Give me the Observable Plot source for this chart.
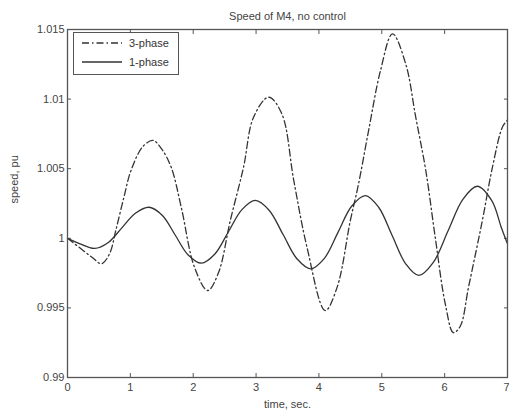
<!DOCTYPE html>
<html>
<head>
<meta charset="utf-8">
<script src="https://cdn.jsdelivr.net/npm/d3@7"></script>
<script src="https://cdn.jsdelivr.net/npm/@observablehq/plot@0.6"></script>
<style>
  html, body { margin: 0; padding: 0; background: #fff; }
  #wrap { position: relative; width: 509px; height: 417px; font-family: "Liberation Sans", Arial, sans-serif; }
  #legend { position: absolute; left: 73px; top: 32px; width: 106px; height: 43px; border: 1px solid #555; background: #fff; box-sizing: border-box; font-size: 11px; color: #333; }
  #legend .row { position: absolute; left: 8px; display: flex; align-items: center; }
  #legend svg { display: block; }
</style>
</head>
<body>
<div id="wrap">
  <div id="chart"></div>
  <div id="legend"></div>
</div>
<script>
const title = "Speed of M4, no control";
const xLabel = "time, sec.";
const yLabel = "speed, pu";
const seriesNames = ["3-phase", "1-phase"];

const xTicks = [0, 1, 2, 3, 4, 5, 6, 7];
const yTicks = [0.99, 0.995, 1, 1.005, 1.01, 1.015];
const yTickLabels = ["0.99", "0.995", "1", "1.005", "1.01", "1.015"];

// 3-phase (dash-dot)
const t3 = [0, 0.2, 0.4, 0.54, 0.67, 0.77, 0.9, 1.01, 1.2, 1.36, 1.5, 1.65, 1.81, 2.02, 2.23, 2.4, 2.59, 2.8, 2.96, 3.2, 3.41, 3.6, 3.81, 4.1, 4.29, 4.5, 4.63, 4.79, 4.98, 5.17, 5.38, 5.54, 5.7, 5.85, 6.01, 6.14, 6.25, 6.38, 6.6, 6.76, 6.92, 7.0];
const v3 = [1.0000, 0.9993, 0.9986, 0.99817, 0.9989, 1.0006, 1.0030, 1.00487, 1.0066, 1.00703, 1.0064, 1.0051, 1.00223, 0.99792, 0.99625, 0.9975, 1.00128, 1.0051, 1.0087, 1.01014, 1.00894, 1.00415, 0.99936, 0.99481, 0.99649, 1.00128, 1.0039, 1.00774, 1.01206, 1.01469, 1.01254, 1.0087, 1.00487, 1.00008, 0.99529, 0.99322, 0.9937, 0.99649, 1.00128, 1.0051, 1.008, 1.0085];

// 1-phase (solid)
const t1 = [0, 0.2, 0.43, 0.65, 0.865, 1.08, 1.3, 1.51, 1.715, 1.92, 2.13, 2.345, 2.56, 2.775, 2.99, 3.21, 3.43, 3.65, 3.87, 4.09, 4.305, 4.52, 4.74, 4.95, 5.165, 5.38, 5.59, 5.82, 6.055, 6.29, 6.52, 6.75, 6.9, 7.0];
const v1 = [1.0000, 0.9996, 0.99927, 0.9997, 1.00075, 1.0018, 1.00223, 1.00164, 1.00022, 0.9988, 0.99821, 0.99887, 1.00047, 1.00206, 1.00272, 1.002, 1.00027, 0.99853, 0.99781, 0.99858, 1.00044, 1.0023, 1.00307, 1.00223, 1.0002, 0.99817, 0.99733, 0.99827, 1.00054, 1.0028, 1.00374, 1.0027, 1.0008, 0.9996];

const d3p = t3.map((t, i) => ({t, v: v3[i]}));
const d1p = t1.map((t, i) => ({t, v: v1[i]}));

const lineColor = "#333";
const axisColor = "#555";
const dashDot = "7,3,1.5,3";
const fmtY = d => yTickLabels[yTicks.indexOf(d)] ?? String(d);

const chart = Plot.plot({
  width: 509,
  height: 417,
  marginLeft: 67,
  marginRight: 2,
  marginTop: 29,
  marginBottom: 40,
  style: {fontFamily: "'Liberation Sans', Arial, sans-serif", fontSize: "11px", color: "#444", background: "#fff"},
  x: {domain: [0, 7]},
  y: {domain: [0.99, 1.015]},
  marks: [
    Plot.axisX({ticks: xTicks.slice(0, -1), tickSize: -4, tickPadding: 10, tickFormat: d => String(d), label: null, stroke: axisColor}),
    Plot.axisX({ticks: xTicks.slice(-1), tickSize: -4, tickPadding: 10, tickFormat: d => String(d), textAnchor: "end", dx: 2, label: null, stroke: axisColor}),
    Plot.axisX({anchor: "top", ticks: xTicks, tickSize: -4, tickFormat: () => "", label: null, stroke: axisColor}),
    Plot.axisY({ticks: yTicks, tickSize: -4, tickPadding: 7, tickFormat: fmtY, label: null, stroke: axisColor}),
    Plot.axisY({anchor: "right", ticks: yTicks, tickSize: -4, tickFormat: () => "", label: null, stroke: axisColor}),
    Plot.line(d3p, {x: "t", y: "v", stroke: lineColor, strokeWidth: 1.3, strokeDasharray: dashDot, curve: "catmull-rom"}),
    Plot.line(d1p, {x: "t", y: "v", stroke: lineColor, strokeWidth: 1.3, curve: "catmull-rom"}),
    Plot.frame({stroke: axisColor, strokeWidth: 1.3}),
    Plot.text([title], {frameAnchor: "top", dy: -17, fill: "#444", fontSize: 11}),
    Plot.text([xLabel], {frameAnchor: "bottom", dy: 30, fill: "#444", fontSize: 11}),
    Plot.text([yLabel], {frameAnchor: "left", dx: -53, rotate: -90, fill: "#444", fontSize: 11})
  ]
});
document.getElementById("chart").appendChild(chart);

// legend
const legend = document.getElementById("legend");
seriesNames.forEach((name, i) => {
  const row = document.createElement("div");
  row.className = "row";
  row.style.top = (i === 0 ? 3 : 22) + "px";
  const dash = i === 0 ? dashDot : null;
  row.innerHTML = `<svg width="42" height="14"><line x1="0" y1="7" x2="40" y2="7" stroke="${lineColor}" stroke-width="1.3" ${dash ? `stroke-dasharray="${dash}"` : ""}/></svg><span style="margin-left:5px">${name}</span>`;
  legend.appendChild(row);
});
</script>
</body>
</html>
